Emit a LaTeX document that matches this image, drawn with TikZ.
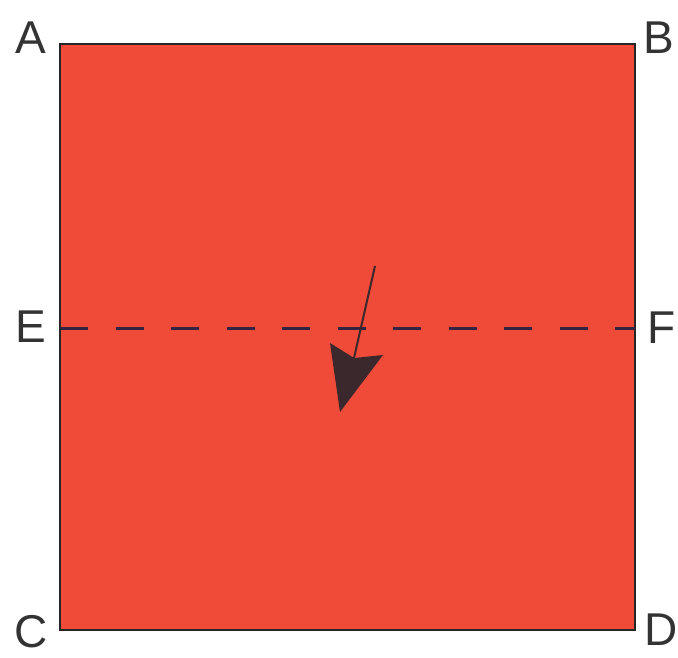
\documentclass[tikz,border=0pt]{standalone}
\usepackage{fontspec}
\setmainfont{Liberation Sans}
\begin{document}
\begin{tikzpicture}[x=1pt,y=-1pt,
  lbl/.style={font=\fontsize{46}{46}\selectfont, text=black!80, inner sep=0pt},
  edge/.style={draw=black!85, line width=2pt}]
\useasboundingbox (0,0) rectangle (678,658);
\definecolor{paper}{RGB}{240,74,56}
\definecolor{ink}{RGB}{58,40,44}
\coordinate (A) at (60,44);
\coordinate (B) at (635,44);
\coordinate (C) at (60,630);
\coordinate (D) at (635,630);
\coordinate (E) at (60,328);
\coordinate (F) at (635,328);
\fill[paper] (A) rectangle (D);
\draw[edge] (A) -- (B) -- (D) -- (C) -- cycle;
\draw[color=ink!90!blue, line width=3pt, dash pattern=on 28pt off 27.5pt] (E) -- (F);
\node[lbl] (lA) at (31,38) {A};
\node[lbl] (lB) at (659,38) {B};
\node[lbl] (lE) at (31,327) {E};
\node[lbl] (lF) at (662,328) {F};
\node[lbl] (lC) at (31,632) {C};
\node[lbl] (lD) at (661,630) {D};
\coordinate (t0) at (375,266);
\coordinate (n) at (354,358);
\coordinate (tip) at (340,412);
\coordinate (b1) at (330,343);
\coordinate (b2) at (383,355);
\draw[ink, line width=2pt] (t0) -- (n);
\fill[ink] (tip) -- (b1) -- (n) -- (b2) -- cycle;
\end{tikzpicture}
\end{document}
